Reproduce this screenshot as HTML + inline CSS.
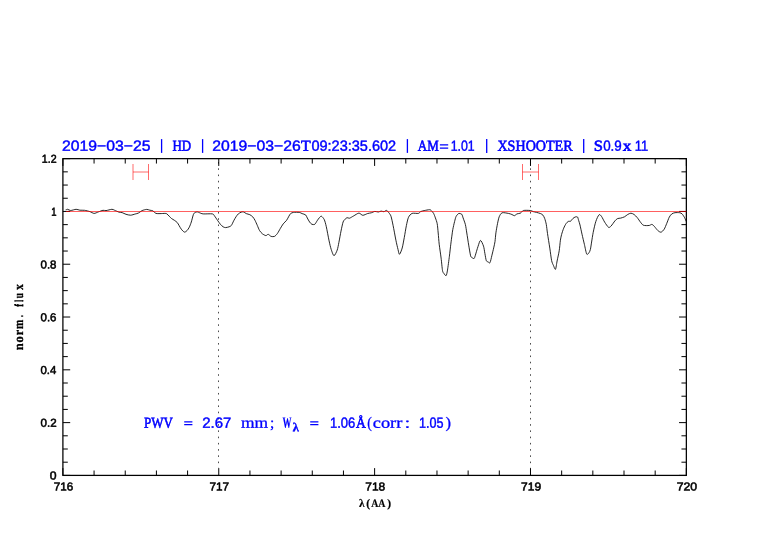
<!DOCTYPE html>
<html><head><meta charset="utf-8"><title>plot</title>
<style>
html,body{margin:0;padding:0;background:#fff;}
body{width:782px;height:542px;overflow:hidden;position:relative;font-family:"Liberation Sans",sans-serif;}
</style></head><body>
<svg width="782" height="542" viewBox="0 0 782 542" style="position:absolute;left:0;top:0;will-change:transform;opacity:0.999">
<rect x="0" y="0" width="782" height="542" fill="#fff"/>
<line x1="218.50" y1="162.06" x2="218.50" y2="468" stroke="#000" stroke-opacity="0.7" stroke-width="1" stroke-dasharray="1.6 4.64"/>
<line x1="530.50" y1="162.06" x2="530.50" y2="468" stroke="#000" stroke-opacity="0.7" stroke-width="1" stroke-dasharray="1.6 4.64"/>
<path d="M65.70 209.80C65.78 209.79 66.03 209.77 66.30 209.70C66.57 209.63 67.11 209.19 67.70 209.30C68.29 209.41 69.58 210.50 70.70 210.50C71.82 210.50 74.87 209.34 76.10 209.30C77.33 209.26 78.78 210.07 79.90 210.20C81.02 210.33 83.17 210.11 84.50 210.30C85.83 210.49 88.62 211.19 89.90 211.60C91.18 212.01 92.97 213.36 94.10 213.40C95.23 213.44 97.21 212.31 98.40 211.90C99.59 211.49 101.99 210.47 103.00 210.30C104.01 210.13 104.81 210.73 106.00 210.60C107.19 210.47 110.77 209.35 111.90 209.30C113.03 209.25 113.54 209.81 114.50 210.20C115.46 210.59 118.09 211.88 119.10 212.20C120.11 212.52 121.18 212.32 122.10 212.60C123.02 212.88 124.87 213.95 126.00 214.30C127.13 214.65 129.37 215.24 130.60 215.20C131.83 215.16 134.17 214.28 135.20 214.00C136.23 213.72 137.38 213.55 138.30 213.10C139.22 212.65 140.98 211.09 142.10 210.60C143.22 210.11 145.67 209.45 146.70 209.40C147.73 209.35 148.99 210.01 149.80 210.20C150.61 210.39 151.99 210.37 152.80 210.80C153.61 211.23 154.94 213.03 155.90 213.40C156.86 213.77 158.76 213.60 160.00 213.60C161.24 213.60 164.28 213.36 165.20 213.40C166.12 213.44 166.37 213.53 166.90 213.90C167.43 214.27 168.59 215.59 169.20 216.20C169.81 216.81 170.81 217.95 171.50 218.50C172.19 219.05 173.63 219.75 174.40 220.30C175.17 220.85 176.69 221.92 177.30 222.60C177.91 223.28 178.47 224.52 179.00 225.40C179.53 226.28 180.58 228.31 181.30 229.20C182.02 230.09 183.64 231.91 184.40 232.10C185.16 232.29 186.35 231.25 187.00 230.60C187.65 229.95 188.73 228.35 189.30 227.20C189.87 226.05 190.75 223.69 191.30 222.00C191.85 220.31 192.89 215.78 193.40 214.50C193.91 213.22 194.57 212.75 195.10 212.40C195.63 212.05 196.79 211.85 197.40 211.90C198.01 211.95 198.93 212.53 199.70 212.80C200.47 213.07 201.51 213.75 203.20 213.90C204.89 214.05 210.87 213.59 212.40 213.90C213.93 214.21 214.02 215.35 214.70 216.20C215.38 217.05 216.74 219.22 217.50 220.30C218.26 221.38 219.65 223.43 220.40 224.30C221.15 225.17 222.41 226.36 223.10 226.80C223.79 227.24 224.80 227.60 225.60 227.60C226.40 227.60 228.33 227.09 229.10 226.80C229.87 226.51 230.79 226.20 231.40 225.40C232.01 224.60 233.09 221.95 233.70 220.80C234.31 219.65 235.39 217.72 236.00 216.80C236.61 215.88 237.62 214.51 238.30 213.90C238.98 213.29 240.42 212.47 241.10 212.20C241.78 211.93 242.71 211.71 243.40 211.90C244.09 212.09 245.45 213.23 246.30 213.60C247.15 213.97 248.95 214.27 249.80 214.70C250.65 215.13 252.01 216.05 252.70 216.80C253.39 217.55 254.39 219.15 255.00 220.30C255.61 221.45 256.69 224.03 257.30 225.40C257.91 226.77 258.92 229.48 259.60 230.60C260.28 231.72 261.56 233.13 262.40 233.80C263.24 234.47 265.13 235.53 265.90 235.60C266.67 235.67 267.51 234.19 268.20 234.30C268.89 234.41 270.26 236.12 271.10 236.40C271.94 236.68 273.66 236.79 274.50 236.40C275.34 236.01 276.63 234.55 277.40 233.50C278.17 232.45 279.53 229.78 280.30 228.50C281.07 227.22 282.36 224.99 283.20 223.90C284.04 222.81 285.84 221.33 286.60 220.30C287.36 219.27 288.37 217.09 288.90 216.20C289.43 215.31 289.99 214.11 290.60 213.60C291.21 213.09 292.34 212.56 293.50 212.40C294.66 212.24 298.15 212.24 299.30 212.40C300.45 212.56 301.26 213.27 302.10 213.60C302.94 213.93 304.91 214.31 305.60 214.90C306.29 215.49 306.77 217.05 307.30 218.00C307.83 218.95 308.99 221.16 309.60 222.00C310.21 222.84 311.21 223.99 311.90 224.30C312.59 224.61 314.11 224.77 314.80 224.30C315.49 223.83 316.49 221.68 317.10 220.80C317.71 219.92 318.83 218.31 319.40 217.70C319.97 217.09 320.75 215.93 321.40 216.20C322.05 216.47 323.65 218.30 324.30 219.70C324.95 221.10 325.66 223.87 326.30 226.70C326.94 229.53 328.45 237.87 329.10 240.90C329.75 243.93 330.55 247.43 331.20 249.40C331.85 251.37 333.20 255.61 334.00 255.70C334.80 255.79 336.55 251.87 337.20 250.10C337.85 248.33 338.39 244.93 338.90 242.40C339.41 239.87 340.44 233.82 341.00 231.10C341.56 228.38 342.54 223.60 343.10 222.00C343.66 220.40 344.67 219.67 345.20 219.10C345.73 218.53 346.53 217.82 347.10 217.70C347.67 217.58 348.62 218.44 349.50 218.20C350.38 217.96 352.45 216.58 353.70 215.90C354.95 215.22 357.69 213.18 358.90 213.10C360.11 213.02 361.63 215.25 362.80 215.30C363.97 215.35 366.57 213.83 367.70 213.50C368.83 213.17 370.35 213.08 371.30 212.80C372.25 212.52 373.87 211.51 374.80 211.40C375.73 211.29 377.46 212.04 378.30 212.00C379.14 211.96 380.35 211.14 381.10 211.10C381.85 211.06 383.18 211.79 383.90 211.70C384.62 211.61 385.83 210.25 386.50 210.40C387.17 210.55 388.30 212.01 388.90 212.80C389.50 213.59 390.44 214.61 391.00 216.30C391.56 217.99 392.45 222.31 393.10 225.50C393.75 228.69 395.25 237.01 395.90 240.20C396.55 243.39 397.52 247.52 398.00 249.40C398.48 251.28 398.94 254.49 399.50 254.30C400.06 254.11 401.56 250.25 402.20 248.00C402.84 245.75 403.74 240.40 404.30 237.40C404.86 234.40 405.84 228.18 406.40 225.50C406.96 222.82 407.74 218.91 408.50 217.30C409.26 215.69 410.78 213.92 412.10 213.40C413.42 212.88 417.27 213.64 418.40 213.40C419.53 213.16 419.83 211.97 420.60 211.60C421.37 211.23 423.01 210.85 424.20 210.60C425.39 210.35 428.55 209.70 429.50 209.70C430.45 209.70 430.75 210.11 431.30 210.60C431.85 211.09 433.05 212.43 433.60 213.40C434.15 214.37 434.92 216.53 435.40 217.90C435.88 219.27 436.83 221.69 437.20 223.70C437.57 225.71 437.93 230.27 438.20 233.00C438.47 235.73 438.81 240.85 439.20 244.20C439.59 247.55 440.66 254.59 441.10 258.10C441.54 261.61 442.14 268.47 442.50 270.50C442.86 272.53 443.32 272.62 443.80 273.30C444.28 273.98 445.61 276.03 446.10 275.60C446.59 275.17 447.06 272.69 447.50 270.10C447.94 267.51 448.96 259.65 449.40 256.20C449.84 252.75 450.45 247.03 450.80 244.20C451.15 241.37 451.73 236.96 452.00 235.00C452.27 233.04 452.45 231.30 452.80 229.50C453.15 227.70 454.17 223.22 454.60 221.50C455.03 219.78 455.59 217.56 456.00 216.60C456.41 215.64 457.29 214.73 457.70 214.30C458.11 213.87 458.55 213.40 459.10 213.40C459.65 213.40 461.27 213.70 461.80 214.30C462.33 214.90 462.62 216.53 463.10 217.90C463.58 219.27 464.91 222.59 465.40 224.60C465.89 226.61 466.36 230.27 466.80 233.00C467.24 235.73 468.19 242.06 468.70 245.10C469.21 248.14 470.16 254.13 470.60 255.80C471.04 257.47 471.53 257.24 472.00 257.60C472.47 257.96 473.67 258.74 474.10 258.50C474.53 258.26 474.68 257.40 475.20 255.80C475.72 254.20 477.29 248.55 478.00 246.50C478.71 244.45 479.77 240.45 480.50 240.40C481.23 240.35 482.91 244.35 483.50 246.10C484.09 247.85 484.53 251.57 484.90 253.50C485.27 255.43 485.87 259.48 486.30 260.60C486.73 261.72 487.61 261.62 488.10 261.90C488.59 262.18 489.51 263.51 490.00 262.70C490.49 261.89 491.31 257.77 491.80 255.80C492.29 253.83 493.27 249.81 493.70 247.90C494.13 245.99 494.71 243.50 495.00 241.50C495.29 239.50 495.57 235.27 495.90 232.90C496.23 230.53 497.06 225.85 497.50 223.70C497.94 221.55 498.59 218.25 499.20 216.80C499.81 215.35 500.87 213.25 502.10 212.80C503.33 212.35 507.09 213.17 508.40 213.40C509.71 213.63 511.10 214.19 511.90 214.50C512.70 214.81 513.72 215.78 514.40 215.70C515.08 215.62 516.19 214.25 517.00 213.90C517.81 213.55 519.65 213.55 520.50 213.10C521.35 212.65 522.09 210.85 523.40 210.50C524.71 210.15 528.99 210.35 530.30 210.50C531.61 210.65 532.36 211.35 533.20 211.60C534.04 211.85 535.61 212.13 536.60 212.40C537.59 212.67 539.76 213.24 540.60 213.60C541.44 213.96 542.35 214.45 542.90 215.10C543.45 215.75 544.25 217.25 544.70 218.50C545.15 219.75 545.93 222.50 546.30 224.50C546.67 226.50 547.03 230.35 547.50 233.50C547.97 236.65 549.25 244.50 549.80 248.10C550.35 251.70 551.11 258.17 551.60 260.50C552.09 262.83 552.98 264.43 553.50 265.60C554.02 266.77 555.02 269.91 555.50 269.30C555.98 268.69 556.61 263.47 557.10 261.00C557.59 258.53 558.76 253.57 559.20 250.80C559.64 248.03 560.08 242.37 560.40 240.20C560.72 238.03 561.16 236.10 561.60 234.50C562.04 232.90 563.11 229.64 563.70 228.20C564.29 226.76 565.39 224.61 566.00 223.70C566.61 222.79 567.69 221.73 568.30 221.40C568.91 221.07 569.99 221.59 570.60 221.20C571.21 220.81 572.29 219.06 572.90 218.50C573.51 217.94 574.59 217.20 575.20 217.00C575.81 216.80 577.05 216.56 577.50 217.00C577.95 217.44 578.27 219.23 578.60 220.30C578.93 221.37 579.55 223.15 580.00 225.00C580.45 226.85 581.41 231.61 582.00 234.20C582.59 236.79 583.77 241.75 584.40 244.40C585.03 247.05 586.09 252.99 586.70 254.10C587.31 255.21 588.51 253.33 589.00 252.70C589.49 252.07 590.05 250.83 590.40 249.40C590.75 247.97 591.23 244.27 591.60 242.00C591.97 239.73 592.64 235.13 593.20 232.40C593.76 229.67 595.03 223.85 595.80 221.50C596.57 219.15 598.24 215.48 599.00 214.80C599.76 214.12 600.74 215.41 601.50 216.40C602.26 217.39 603.77 220.75 604.70 222.20C605.63 223.65 607.65 226.79 608.50 227.30C609.35 227.81 610.25 226.85 611.10 226.00C611.95 225.15 614.05 221.89 614.90 220.90C615.75 219.91 616.73 218.97 617.50 218.60C618.27 218.23 619.77 218.34 620.70 218.10C621.63 217.86 623.57 217.28 624.50 216.80C625.43 216.32 626.85 214.98 627.70 214.50C628.55 214.02 630.05 213.20 630.90 213.20C631.75 213.20 633.25 213.90 634.10 214.50C634.95 215.10 636.45 216.67 637.30 217.70C638.15 218.73 639.73 221.21 640.50 222.20C641.27 223.19 642.33 224.65 643.10 225.10C643.87 225.55 645.45 225.56 646.30 225.60C647.15 225.64 648.74 225.56 649.50 225.40C650.26 225.24 651.32 224.23 652.00 224.40C652.68 224.57 653.83 225.89 654.60 226.70C655.37 227.51 656.95 229.77 657.80 230.50C658.65 231.23 660.15 232.37 661.00 232.20C661.85 232.03 663.44 230.36 664.20 229.20C664.96 228.04 666.02 225.11 666.70 223.50C667.38 221.89 668.62 218.38 669.30 217.10C669.98 215.82 671.04 214.49 671.80 213.90C672.56 213.31 673.97 212.86 675.00 212.70C676.03 212.54 678.55 212.54 679.50 212.70C680.45 212.86 681.42 213.23 682.10 213.90C682.78 214.57 684.04 216.67 684.60 217.70C685.16 218.73 686.07 221.08 686.30 221.60" fill="none" stroke="#000" stroke-width="0.85" stroke-linejoin="round"/>
<path d="M62.90 475.40 v-7.30 M62.90 158.65 v7.30 M94.07 475.40 v-4.90 M94.07 158.65 v4.90 M125.24 475.40 v-4.90 M125.24 158.65 v4.90 M156.42 475.40 v-4.90 M156.42 158.65 v4.90 M187.59 475.40 v-4.90 M187.59 158.65 v4.90 M218.76 475.40 v-7.30 M218.76 158.65 v7.30 M249.94 475.40 v-4.90 M249.94 158.65 v4.90 M281.11 475.40 v-4.90 M281.11 158.65 v4.90 M312.28 475.40 v-4.90 M312.28 158.65 v4.90 M343.45 475.40 v-4.90 M343.45 158.65 v4.90 M374.62 475.40 v-7.30 M374.62 158.65 v7.30 M405.80 475.40 v-4.90 M405.80 158.65 v4.90 M436.97 475.40 v-4.90 M436.97 158.65 v4.90 M468.14 475.40 v-4.90 M468.14 158.65 v4.90 M499.31 475.40 v-4.90 M499.31 158.65 v4.90 M530.49 475.40 v-7.30 M530.49 158.65 v7.30 M561.66 475.40 v-4.90 M561.66 158.65 v4.90 M592.83 475.40 v-4.90 M592.83 158.65 v4.90 M624.01 475.40 v-4.90 M624.01 158.65 v4.90 M655.18 475.40 v-4.90 M655.18 158.65 v4.90 M686.35 475.40 v-7.30 M686.35 158.65 v7.30 M62.90 475.40 h7.30 M686.35 475.40 h-7.30 M62.90 462.20 h4.90 M686.35 462.20 h-4.90 M62.90 449.00 h4.90 M686.35 449.00 h-4.90 M62.90 435.81 h4.90 M686.35 435.81 h-4.90 M62.90 422.61 h7.30 M686.35 422.61 h-7.30 M62.90 409.41 h4.90 M686.35 409.41 h-4.90 M62.90 396.21 h4.90 M686.35 396.21 h-4.90 M62.90 383.01 h4.90 M686.35 383.01 h-4.90 M62.90 369.82 h7.30 M686.35 369.82 h-7.30 M62.90 356.62 h4.90 M686.35 356.62 h-4.90 M62.90 343.42 h4.90 M686.35 343.42 h-4.90 M62.90 330.22 h4.90 M686.35 330.22 h-4.90 M62.90 317.02 h7.30 M686.35 317.02 h-7.30 M62.90 303.83 h4.90 M686.35 303.83 h-4.90 M62.90 290.63 h4.90 M686.35 290.63 h-4.90 M62.90 277.43 h4.90 M686.35 277.43 h-4.90 M62.90 264.23 h7.30 M686.35 264.23 h-7.30 M62.90 251.04 h4.90 M686.35 251.04 h-4.90 M62.90 237.84 h4.90 M686.35 237.84 h-4.90 M62.90 224.64 h4.90 M686.35 224.64 h-4.90 M62.90 211.44 h7.30 M686.35 211.44 h-7.30 M62.90 198.24 h4.90 M686.35 198.24 h-4.90 M62.90 185.05 h4.90 M686.35 185.05 h-4.90 M62.90 171.85 h4.90 M686.35 171.85 h-4.90 M62.90 158.65 h7.30 M686.35 158.65 h-7.30" stroke="#000" stroke-width="1" fill="none"/>
<rect x="62.90" y="158.65" width="623.45" height="316.75" fill="none" stroke="#000" stroke-width="1.25"/>
<line x1="66" y1="211.5" x2="686.35" y2="211.5" stroke="#ff0000" stroke-width="1" opacity="0.62"/>
<path d="M133.00 164 V180 M148.50 164 V180 M133.00 172 H148.50" stroke="#ff0000" stroke-width="1" fill="none" opacity="0.58"/>
<path d="M522.50 164 V180 M538.50 164 V180 M522.50 172 H538.50" stroke="#ff0000" stroke-width="1" fill="none" opacity="0.58"/>
<text transform="translate(53.69 490.40) scale(1.0161 1) rotate(0.03)" fill="#000" stroke="#000" stroke-width="0.55" stroke-linejoin="round" style="font-family:'Liberation Sans',sans-serif;font-size:11.53px;font-weight:normal;text-rendering:geometricPrecision;font-variant-ligatures:none">716</text>
<text transform="translate(209.39 490.40) scale(1.0226 1) rotate(0.03)" fill="#000" stroke="#000" stroke-width="0.55" stroke-linejoin="round" style="font-family:'Liberation Sans',sans-serif;font-size:11.53px;font-weight:normal;text-rendering:geometricPrecision;font-variant-ligatures:none">717</text>
<text transform="translate(365.28 490.40) scale(1.0381 1) rotate(0.03)" fill="#000" stroke="#000" stroke-width="0.55" stroke-linejoin="round" style="font-family:'Liberation Sans',sans-serif;font-size:11.53px;font-weight:normal;text-rendering:geometricPrecision;font-variant-ligatures:none">718</text>
<text transform="translate(521.07 490.40) scale(1.0414 1) rotate(0.03)" fill="#000" stroke="#000" stroke-width="0.55" stroke-linejoin="round" style="font-family:'Liberation Sans',sans-serif;font-size:11.53px;font-weight:normal;text-rendering:geometricPrecision;font-variant-ligatures:none">719</text>
<text transform="translate(676.76 490.40) scale(1.0623 1) rotate(0.03)" fill="#000" stroke="#000" stroke-width="0.55" stroke-linejoin="round" style="font-family:'Liberation Sans',sans-serif;font-size:11.53px;font-weight:normal;text-rendering:geometricPrecision;font-variant-ligatures:none">720</text>
<text transform="translate(49.69 479.60) scale(1.0572 1) rotate(0.03)" fill="#000" stroke="#000" stroke-width="0.55" stroke-linejoin="round" style="font-family:'Liberation Sans',sans-serif;font-size:11.53px;font-weight:normal;text-rendering:geometricPrecision;font-variant-ligatures:none">0</text>
<text transform="translate(40.51 426.81) scale(1.0042 1) rotate(0.03)" fill="#000" stroke="#000" stroke-width="0.55" stroke-linejoin="round" style="font-family:'Liberation Sans',sans-serif;font-size:11.53px;font-weight:normal;text-rendering:geometricPrecision;font-variant-ligatures:none">0.2</text>
<text transform="translate(40.52 374.02) scale(0.9890 1) rotate(0.03)" fill="#000" stroke="#000" stroke-width="0.55" stroke-linejoin="round" style="font-family:'Liberation Sans',sans-serif;font-size:11.53px;font-weight:normal;text-rendering:geometricPrecision;font-variant-ligatures:none">0.4</text>
<text transform="translate(40.52 321.22) scale(0.9965 1) rotate(0.03)" fill="#000" stroke="#000" stroke-width="0.55" stroke-linejoin="round" style="font-family:'Liberation Sans',sans-serif;font-size:11.53px;font-weight:normal;text-rendering:geometricPrecision;font-variant-ligatures:none">0.6</text>
<text transform="translate(40.52 268.43) scale(0.9965 1) rotate(0.03)" fill="#000" stroke="#000" stroke-width="0.55" stroke-linejoin="round" style="font-family:'Liberation Sans',sans-serif;font-size:11.53px;font-weight:normal;text-rendering:geometricPrecision;font-variant-ligatures:none">0.8</text>
<text transform="translate(51.16 215.64) scale(0.8275 1) rotate(0.03)" fill="#000" stroke="#000" stroke-width="0.55" stroke-linejoin="round" style="font-family:'Liberation Sans',sans-serif;font-size:11.53px;font-weight:normal;text-rendering:geometricPrecision;font-variant-ligatures:none">1</text>
<text transform="translate(41.78 162.85) scale(0.9223 1) rotate(0.03)" fill="#000" stroke="#000" stroke-width="0.55" stroke-linejoin="round" style="font-family:'Liberation Sans',sans-serif;font-size:11.53px;font-weight:normal;text-rendering:geometricPrecision;font-variant-ligatures:none">1.2</text>
<text transform="translate(358.89 506.90) scale(0.9930 1) rotate(0.03)" fill="#000" stroke="#000" stroke-width="0.20" stroke-linejoin="round" style="font-family:'Liberation Serif',serif;font-size:11.42px;font-weight:bold;text-rendering:geometricPrecision;font-variant-ligatures:none">&#955;</text>
<text transform="translate(366.19 506.90) scale(0.9959 1) rotate(0.03)" fill="#000" stroke="#000" stroke-width="0.20" stroke-linejoin="round" style="font-family:'Liberation Serif',serif;font-size:11.42px;font-weight:bold;text-rendering:geometricPrecision;font-variant-ligatures:none">(</text>
<text transform="translate(371.20 506.90) scale(0.8665 1) rotate(0.03)" fill="#000" stroke="#000" stroke-width="0.20" stroke-linejoin="round" style="font-family:'Liberation Serif',serif;font-size:11.42px;font-weight:bold;text-rendering:geometricPrecision;font-variant-ligatures:none">AA</text>
<text transform="translate(387.35 506.90) scale(1.0104 1) rotate(0.03)" fill="#000" stroke="#000" stroke-width="0.20" stroke-linejoin="round" style="font-family:'Liberation Serif',serif;font-size:11.42px;font-weight:bold;text-rendering:geometricPrecision;font-variant-ligatures:none">)</text>
<g transform="translate(23.1 350) rotate(-90)">
<text transform="translate(-0.26 0.00) scale(0.9443 1) rotate(0.03)" fill="#000" stroke="#000" stroke-width="0.30" stroke-linejoin="round" style="font-family:'Liberation Serif',serif;font-size:13.16px;font-weight:bold;text-rendering:geometricPrecision;font-variant-ligatures:none">n</text>
<text transform="translate(7.55 0.00) scale(0.9589 1) rotate(0.03)" fill="#000" stroke="#000" stroke-width="0.30" stroke-linejoin="round" style="font-family:'Liberation Serif',serif;font-size:13.16px;font-weight:bold;text-rendering:geometricPrecision;font-variant-ligatures:none">o</text>
<text transform="translate(14.64 0.00) scale(0.9308 1) rotate(0.03)" fill="#000" stroke="#000" stroke-width="0.30" stroke-linejoin="round" style="font-family:'Liberation Serif',serif;font-size:13.16px;font-weight:bold;text-rendering:geometricPrecision;font-variant-ligatures:none">r</text>
<text transform="translate(21.07 0.00) scale(0.8464 1) rotate(0.03)" fill="#000" stroke="#000" stroke-width="0.30" stroke-linejoin="round" style="font-family:'Liberation Serif',serif;font-size:13.16px;font-weight:bold;text-rendering:geometricPrecision;font-variant-ligatures:none">m</text>
<text transform="translate(32.91 0.00) scale(0.5699 1) rotate(0.03)" fill="#000" stroke="#000" stroke-width="0.30" stroke-linejoin="round" style="font-family:'Liberation Serif',serif;font-size:13.16px;font-weight:bold;text-rendering:geometricPrecision;font-variant-ligatures:none">.</text>
<text transform="translate(43.59 0.00) scale(0.5812 1) rotate(0.03)" fill="#000" stroke="#000" stroke-width="0.85" stroke-linejoin="round" style="font-family:'Liberation Serif',serif;font-size:11.89px;font-weight:bold;text-rendering:geometricPrecision;font-variant-ligatures:none">f</text>
<text transform="translate(48.43 0.00) scale(0.4029 1) rotate(0.03)" fill="#000" stroke="#000" stroke-width="0.85" stroke-linejoin="round" style="font-family:'Liberation Serif',serif;font-size:11.89px;font-weight:bold;text-rendering:geometricPrecision;font-variant-ligatures:none">l</text>
<text transform="translate(51.71 0.00) scale(0.6935 1) rotate(0.03)" fill="#000" stroke="#000" stroke-width="0.30" stroke-linejoin="round" style="font-family:'Liberation Serif',serif;font-size:13.16px;font-weight:bold;text-rendering:geometricPrecision;font-variant-ligatures:none">u</text>
<text transform="translate(60.09 0.00) scale(0.8994 1) rotate(0.03)" fill="#000" stroke="#000" stroke-width="0.30" stroke-linejoin="round" style="font-family:'Liberation Serif',serif;font-size:13.16px;font-weight:bold;text-rendering:geometricPrecision;font-variant-ligatures:none">x</text>
</g>
<text transform="translate(62.12 150.75) scale(1.0753 1) rotate(0.03)" fill="#0000ff" stroke="#0000ff" stroke-width="0.42" stroke-linejoin="round" style="font-family:'Liberation Sans',sans-serif;font-size:14.64px;font-weight:normal;text-rendering:geometricPrecision;font-variant-ligatures:none">2019&#8722;03&#8722;25</text>
<text transform="translate(172.51 150.75) scale(0.8445 1) rotate(0.03)" fill="#0000ff" stroke="#0000ff" stroke-width="0.60" stroke-linejoin="round" style="font-family:'Liberation Serif',serif;font-size:15.33px;font-weight:normal;text-rendering:geometricPrecision;font-variant-ligatures:none">HD</text>
<text transform="translate(212.22 150.75) scale(1.0766 1) rotate(0.03)" fill="#0000ff" stroke="#0000ff" stroke-width="0.42" stroke-linejoin="round" style="font-family:'Liberation Sans',sans-serif;font-size:14.64px;font-weight:normal;text-rendering:geometricPrecision;font-variant-ligatures:none">2019&#8722;03&#8722;26</text>
<text transform="translate(300.98 150.75) scale(1.0325 1) rotate(0.03)" fill="#0000ff" stroke="#0000ff" stroke-width="0.60" stroke-linejoin="round" style="font-family:'Liberation Serif',serif;font-size:15.33px;font-weight:normal;text-rendering:geometricPrecision;font-variant-ligatures:none">T</text>
<text transform="translate(311.43 150.75) scale(0.9917 1) rotate(0.03)" fill="#0000ff" stroke="#0000ff" stroke-width="0.42" stroke-linejoin="round" style="font-family:'Liberation Sans',sans-serif;font-size:14.64px;font-weight:normal;text-rendering:geometricPrecision;font-variant-ligatures:none">09:23:35.602</text>
<text transform="translate(417.77 150.75) scale(0.8477 1) rotate(0.03)" fill="#0000ff" stroke="#0000ff" stroke-width="0.60" stroke-linejoin="round" style="font-family:'Liberation Serif',serif;font-size:15.33px;font-weight:normal;text-rendering:geometricPrecision;font-variant-ligatures:none">AM</text>
<text transform="translate(450.68 150.75) scale(0.8451 1) rotate(0.03)" fill="#0000ff" stroke="#0000ff" stroke-width="0.42" stroke-linejoin="round" style="font-family:'Liberation Sans',sans-serif;font-size:14.64px;font-weight:normal;text-rendering:geometricPrecision;font-variant-ligatures:none">1.01</text>
<text transform="translate(497.42 150.75) scale(0.9202 1) rotate(0.03)" fill="#0000ff" stroke="#0000ff" stroke-width="0.60" stroke-linejoin="round" style="font-family:'Liberation Serif',serif;font-size:15.33px;font-weight:normal;text-rendering:geometricPrecision;font-variant-ligatures:none">XSHOOTER</text>
<text transform="translate(593.73 150.75) scale(1.0772 1) rotate(0.03)" fill="#0000ff" stroke="#0000ff" stroke-width="0.60" stroke-linejoin="round" style="font-family:'Liberation Serif',serif;font-size:15.33px;font-weight:normal;text-rendering:geometricPrecision;font-variant-ligatures:none">S</text>
<text transform="translate(603.17 150.75) scale(0.9149 1) rotate(0.03)" fill="#0000ff" stroke="#0000ff" stroke-width="0.42" stroke-linejoin="round" style="font-family:'Liberation Sans',sans-serif;font-size:14.64px;font-weight:normal;text-rendering:geometricPrecision;font-variant-ligatures:none">0.9</text>
<text transform="translate(622.83 150.75) scale(1.1281 1) rotate(0.03)" fill="#0000ff" stroke="#0000ff" stroke-width="0.60" stroke-linejoin="round" style="font-family:'Liberation Serif',serif;font-size:15.33px;font-weight:normal;text-rendering:geometricPrecision;font-variant-ligatures:none">x</text>
<text transform="translate(634.64 150.75) scale(0.8869 1) rotate(0.03)" fill="#0000ff" stroke="#0000ff" stroke-width="0.42" stroke-linejoin="round" style="font-family:'Liberation Sans',sans-serif;font-size:14.64px;font-weight:normal;text-rendering:geometricPrecision;font-variant-ligatures:none">11</text>
<line x1="161.60" y1="139.1" x2="161.60" y2="152.9" stroke="#0000ff" stroke-width="1.3"/>
<line x1="202.60" y1="139.1" x2="202.60" y2="152.9" stroke="#0000ff" stroke-width="1.3"/>
<line x1="407.40" y1="139.1" x2="407.40" y2="152.9" stroke="#0000ff" stroke-width="1.3"/>
<line x1="486.70" y1="139.1" x2="486.70" y2="152.9" stroke="#0000ff" stroke-width="1.3"/>
<line x1="583.70" y1="139.1" x2="583.70" y2="152.9" stroke="#0000ff" stroke-width="1.3"/>
<path d="M439.90 144.90 H448.20 M439.90 148.00 H448.20" stroke="#0000ff" stroke-width="1.25" fill="none"/>
<path d="M184.20 421.90 H192.40 M184.20 424.70 H192.40" stroke="#0000ff" stroke-width="1.25" fill="none"/>
<path d="M310.20 421.90 H318.40 M310.20 424.70 H318.40" stroke="#0000ff" stroke-width="1.25" fill="none"/>
<text transform="translate(144.01 427.70) scale(0.8499 1) rotate(0.03)" fill="#0000ff" stroke="#0000ff" stroke-width="0.60" stroke-linejoin="round" style="font-family:'Liberation Serif',serif;font-size:15.33px;font-weight:normal;text-rendering:geometricPrecision;font-variant-ligatures:none">PWV</text>
<text transform="translate(202.26 427.70) scale(1.0248 1) rotate(0.03)" fill="#0000ff" stroke="#0000ff" stroke-width="0.42" stroke-linejoin="round" style="font-family:'Liberation Sans',sans-serif;font-size:14.64px;font-weight:normal;text-rendering:geometricPrecision;font-variant-ligatures:none">2.67</text>
<text transform="translate(240.90 427.70) scale(1.1179 1) rotate(0.03)" fill="#0000ff" stroke="#0000ff" stroke-width="0.30" stroke-linejoin="round" style="font-family:'Liberation Serif',serif;font-size:15.60px;font-weight:normal;text-rendering:geometricPrecision;font-variant-ligatures:none">mm</text>
<text transform="translate(269.88 427.70) scale(0.9827 1) rotate(0.03)" fill="#0000ff" stroke="#0000ff" stroke-width="0.30" stroke-linejoin="round" style="font-family:'Liberation Serif',serif;font-size:15.60px;font-weight:normal;text-rendering:geometricPrecision;font-variant-ligatures:none">;</text>
<text transform="translate(282.54 427.70) scale(0.5731 1) rotate(0.03)" fill="#0000ff" stroke="#0000ff" stroke-width="0.15" stroke-linejoin="round" style="font-family:'Liberation Serif',serif;font-size:15.74px;font-weight:bold;text-rendering:geometricPrecision;font-variant-ligatures:none">W</text>
<text transform="translate(329.93 427.70) scale(0.8913 1) rotate(0.03)" fill="#0000ff" stroke="#0000ff" stroke-width="0.42" stroke-linejoin="round" style="font-family:'Liberation Sans',sans-serif;font-size:14.64px;font-weight:normal;text-rendering:geometricPrecision;font-variant-ligatures:none">1.06</text>
<text transform="translate(355.96 427.70) scale(0.8884 1) rotate(0.03)" fill="#0000ff" stroke="#0000ff" stroke-width="0.60" stroke-linejoin="round" style="font-family:'Liberation Serif',serif;font-size:15.33px;font-weight:normal;text-rendering:geometricPrecision;font-variant-ligatures:none">&#197;</text>
<text transform="translate(367.33 427.70) scale(0.8797 1) rotate(0.03)" fill="#0000ff" stroke="#0000ff" stroke-width="0.30" stroke-linejoin="round" style="font-family:'Liberation Serif',serif;font-size:15.60px;font-weight:normal;text-rendering:geometricPrecision;font-variant-ligatures:none">(</text>
<text transform="translate(372.82 427.70) scale(1.1750 1) rotate(0.03)" fill="#0000ff" stroke="#0000ff" stroke-width="0.30" stroke-linejoin="round" style="font-family:'Liberation Serif',serif;font-size:15.60px;font-weight:normal;text-rendering:geometricPrecision;font-variant-ligatures:none">corr</text>
<text transform="translate(404.48 427.70) scale(1.3375 1) rotate(0.03)" fill="#0000ff" stroke="#0000ff" stroke-width="0.30" stroke-linejoin="round" style="font-family:'Liberation Serif',serif;font-size:15.60px;font-weight:normal;text-rendering:geometricPrecision;font-variant-ligatures:none">:</text>
<text transform="translate(418.96 427.70) scale(0.8615 1) rotate(0.03)" fill="#0000ff" stroke="#0000ff" stroke-width="0.42" stroke-linejoin="round" style="font-family:'Liberation Sans',sans-serif;font-size:14.64px;font-weight:normal;text-rendering:geometricPrecision;font-variant-ligatures:none">1.05</text>
<text transform="translate(445.45 427.70) scale(1.0600 1) rotate(0.03)" fill="#0000ff" stroke="#0000ff" stroke-width="0.30" stroke-linejoin="round" style="font-family:'Liberation Serif',serif;font-size:15.60px;font-weight:normal;text-rendering:geometricPrecision;font-variant-ligatures:none">)</text>
<text transform="translate(292.68 431.30) scale(1.0180 1) rotate(0.03)" fill="#0000ff" stroke="#0000ff" stroke-width="0.40" stroke-linejoin="round" style="font-family:'Liberation Serif',serif;font-size:12.15px;font-weight:bold;text-rendering:geometricPrecision;font-variant-ligatures:none">&#955;</text>
</svg>
</body></html>
